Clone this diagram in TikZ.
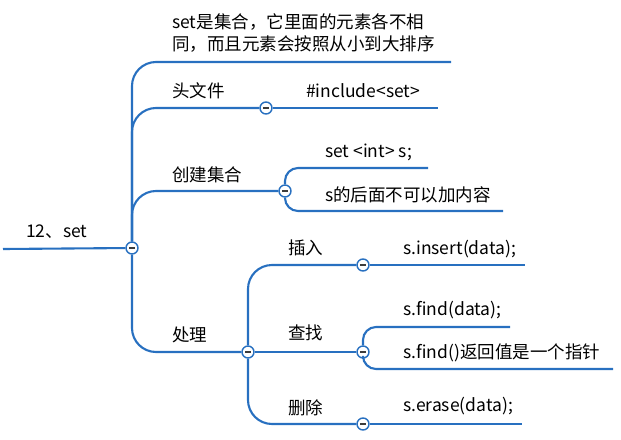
\documentclass[tikz,border=0pt]{standalone}
\usepackage{fontspec}
\setmainfont{Noto Sans CJK SC}
\usetikzlibrary{positioning}
\definecolor{mapblue}{RGB}{40,112,192}
\definecolor{minusgray}{RGB}{60,60,60}
\tikzset{
  branch/.style = {draw=mapblue, line width=2.1pt, rounded corners=24pt},
  twig/.style   = {branch, rounded corners=13pt},
  fold/.style   = {circle, draw=mapblue, fill=white, line width=1.4pt,
                   minimum size=12pt, inner sep=0pt,
                   path picture={\draw[minusgray, line width=1.6pt]
                     ([xshift=-3pt]path picture bounding box.center) --
                     ([xshift=3pt]path picture bounding box.center);}},
  topic/.style  = {anchor=west, inner sep=0pt, font=\fontsize{17.5}{22}\selectfont},
  note/.style   = {topic, align=left}
}

\begin{document}
\begin{tikzpicture}[x=1pt,y=-1pt]
  \useasboundingbox (0,0) rectangle (621,439);

  % ---- root ----
  \coordinate (start) at (3,249);
  \node[topic] (root) at (26,232) {12、set};
  \node[fold] (c0) at (132,248) {};
  \draw[branch] (start) -- (c0);

  % ---- first level ----
  \node[note] (intro) at (172,33) {set是集合，它里面的元素各不相\\同，而且元素会按照从小到大排序};
  \coordinate (introend) at (451,62);
  \node[topic] (head) at (172,91) {头文件};
  \node[fold] (c1) at (266,108) {};
  \node[topic] (make) at (172,175) {创建集合};
  \node[fold] (c2) at (285,191) {};
  \node[topic] (work) at (172,335) {处理};
  \node[fold] (c3) at (248,352) {};
  \draw[branch] (c0.north) |- (introend);
  \draw[branch] (c0.north) |- (c1.west);
  \draw[branch] (c0.north) |- (c2.west);
  \draw[branch] (c0.south) |- (c3.west);

  % ---- 头文件 ----
  \node[topic] (incl) at (306,91) {\#include<set>};
  \coordinate (inclend) at (438,108);
  \draw[branch] (c1.east) -- (inclend);

  % ---- 创建集合 ----
  \node[topic] (decl) at (325,152) {set <int> s;};
  \coordinate (declend) at (428,168);
  \node[topic] (rule) at (325,195) {s的后面不可以加内容};
  \coordinate (ruleend) at (503,211);
  \draw[twig] (c2.north) |- (declend);
  \draw[twig] (c2.south) |- (ruleend);

  % ---- 处理 ----
  \node[topic] (ins) at (288,248) {插入};
  \node[fold] (c31) at (363,265) {};
  \node[topic] (find) at (288,333) {查找};
  \node[fold] (c32) at (363,352) {};
  \node[topic] (del) at (288,408) {删除};
  \node[fold] (c33) at (363,424) {};
  \draw[branch] (c3.north) |- (c31.west);
  \draw[branch] (c3.east) -- (c32.west);
  \draw[branch] (c3.south) |- (c33.west);

  \node[topic] (insx) at (403,249) {s.insert(data);};
  \coordinate (insend) at (525,265);
  \draw[branch] (c31.east) -- (insend);

  \node[topic] (findx) at (403,310) {s.find(data);};
  \coordinate (findend) at (510,327);
  \node[topic] (findy) at (403,353) {s.find()返回值是一个指针};
  \coordinate (findyend) at (613,369);
  \draw[twig] (c32.north) |- (findend);
  \draw[twig] (c32.south) |- (findyend);

  \node[topic] (delx) at (403,406) {s.erase(data);};
  \coordinate (delend) at (522,424);
  \draw[branch] (c33.east) -- (delend);
\end{tikzpicture}
\end{document}
